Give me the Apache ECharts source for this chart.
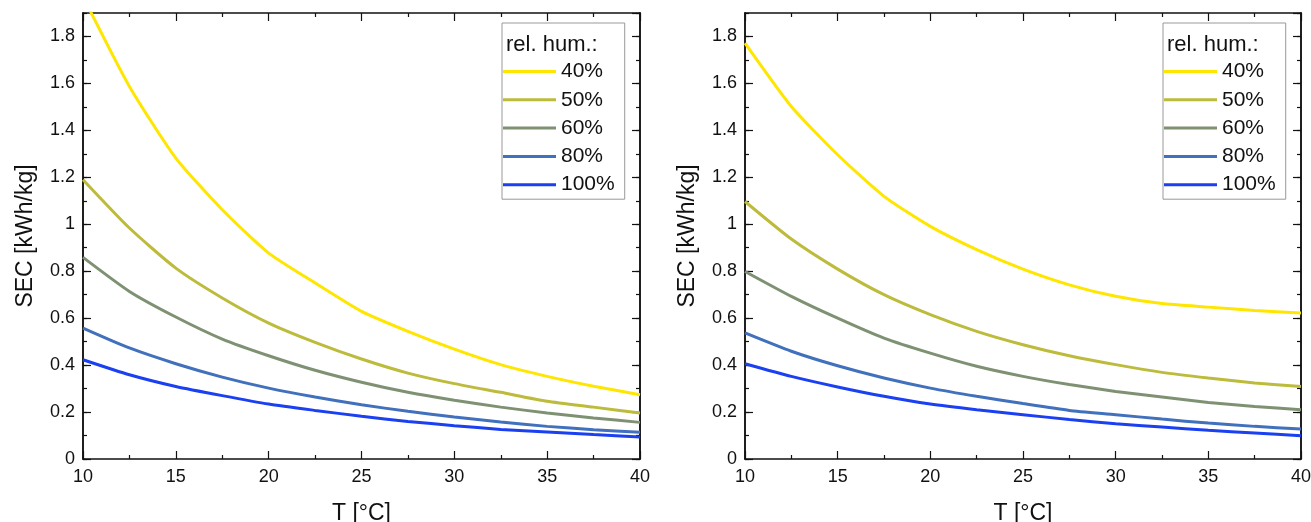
<!DOCTYPE html>
<html>
<head>
<meta charset="utf-8">
<script src="https://cdn.jsdelivr.net/npm/echarts@6/dist/echarts.min.js"></script>
<style>
    html, body { margin: 0; padding: 0; background: #fff; }
    #chart { width: 1311px; height: 522px; }
</style>
</head>
<body>
<div id="chart"></div>
<script>
// temperatures [°C]
const temps = [10, 12.5, 15, 17.5, 20, 22.5, 25, 27.5, 30, 32.5, 35, 37.5, 40];
const humNames = ['40%', '50%', '60%', '80%', '100%'];
const humColors = ['#FFE600', '#BDBB3C', '#7F9173', '#4170BD', '#1A40F2'];

// left plot: SEC [kWh/kg]
const left40 = [1.97, 1.587, 1.282, 1.062, 0.877, 0.75, 0.629, 0.544, 0.468, 0.402, 0.352, 0.31, 0.274];
const left50 = [1.19, 0.984, 0.813, 0.686, 0.579, 0.497, 0.426, 0.366, 0.321, 0.284, 0.246, 0.221, 0.196];
const left60 = [0.859, 0.714, 0.605, 0.511, 0.44, 0.378, 0.327, 0.284, 0.25, 0.221, 0.196, 0.175, 0.156];
const left80 = [0.558, 0.473, 0.406, 0.349, 0.302, 0.264, 0.231, 0.203, 0.179, 0.158, 0.139, 0.125, 0.114];
const left100 = [0.423, 0.359, 0.309, 0.27, 0.234, 0.207, 0.182, 0.16, 0.142, 0.126, 0.115, 0.104, 0.094];

// right plot
const right40 = [1.772, 1.502, 1.296, 1.119, 0.991, 0.892, 0.809, 0.742, 0.693, 0.662, 0.647, 0.633, 0.622];
const right50 = [1.097, 0.937, 0.809, 0.7, 0.615, 0.544, 0.487, 0.44, 0.402, 0.369, 0.345, 0.324, 0.309];
const right60 = [0.799, 0.693, 0.6, 0.515, 0.451, 0.395, 0.352, 0.317, 0.288, 0.264, 0.241, 0.224, 0.21];
const right80 = [0.537, 0.459, 0.397, 0.345, 0.302, 0.267, 0.236, 0.207, 0.189, 0.17, 0.153, 0.139, 0.128];
const right100 = [0.406, 0.352, 0.307, 0.267, 0.234, 0.21, 0.189, 0.168, 0.15, 0.136, 0.122, 0.111, 0.099];

const leftData = [left40, left50, left60, left80, left100];
const rightData = [right40, right50, right60, right80, right100];

const font = 'Liberation Sans, Arial, sans-serif';
const lineCol = '#111';

// axis helpers
function xAxes(gridIndex) {
    const common = {
        gridIndex: gridIndex,
        type: 'value',
        min: 10,
        max: 40,
        interval: 5,
        splitLine: { show: false },
        axisLine: { show: true, onZero: false, lineStyle: { color: lineCol, width: 1.5 } },
        axisTick: { show: true, inside: true, length: 8, lineStyle: { color: lineCol, width: 1.2 } },
        minorTick: { show: true, splitNumber: 2, length: 4, lineStyle: { color: lineCol, width: 1.2 } },
    };
    return [
        Object.assign({}, common, {
            position: 'bottom',
            name: 'T [°C]',
            nameLocation: 'middle',
            nameGap: 43,
            nameTextStyle: { fontFamily: font, fontSize: 23, color: '#111' },
            axisLabel: { fontFamily: font, fontSize: 18, color: '#111', margin: 9 },
        }),
        Object.assign({}, common, {
            position: 'top',
            axisLabel: { show: false },
        }),
    ];
}

function yAxes(gridIndex) {
    const base = {
        gridIndex: gridIndex,
        type: 'value',
        min: 0,
        max: 1.9,
        splitLine: { show: false },
        axisLine: { show: true, onZero: false, lineStyle: { color: lineCol, width: 1.5 } },
    };
    const major = Object.assign({}, base, {
        interval: 0.2,
        axisTick: { show: true, inside: true, length: 8, lineStyle: { color: lineCol, width: 1.2 } },
    });
    const minor = Object.assign({}, base, {
        interval: 0.1,
        axisLabel: { show: false },
        axisTick: { show: true, inside: true, length: 4, lineStyle: { color: lineCol, width: 1.2 } },
    });
    return [
        Object.assign({}, major, {
            position: 'left',
            name: 'SEC [kWh/kg]',
            nameLocation: 'middle',
            nameGap: 46,
            nameTextStyle: { fontFamily: font, fontSize: 23, color: '#111' },
            axisLabel: {
                fontFamily: font, fontSize: 18, color: '#111', margin: 8, showMaxLabel: false,
                formatter: v => (v > 1.85 ? '' : String(Math.round(v * 10) / 10)),
            },
        }),
        Object.assign({}, minor, { position: 'left' }),
        Object.assign({}, major, { position: 'right', axisLabel: { show: false } }),
        Object.assign({}, minor, { position: 'right' }),
    ];
}

function buildSeries(data, gridIndex) {
    return data.map((vals, i) => ({
        name: humNames[i],
        type: 'line',
        xAxisIndex: gridIndex * 2,
        yAxisIndex: gridIndex * 4,
        data: temps.map((t, k) => [t, vals[k]]),
        showSymbol: false,
        smooth: 0.2,
        clip: true,
        lineStyle: { width: 3, color: humColors[i] },
        itemStyle: { color: humColors[i] },
        z: 2 + (5 - i),
    }));
}

function legendBox(left) {
    return {
        orient: 'vertical',
        left: left,
        top: 23,
        padding: [38, 10, 4, 1],
        backgroundColor: '#fff',
        borderColor: '#999',
        borderWidth: 1,
        borderRadius: 0,
        icon: 'rect',
        itemWidth: 53,
        itemHeight: 3,
        itemGap: 7.3,
        selectedMode: false,
        data: humNames,
        textStyle: { fontFamily: font, fontSize: 21, color: '#111', lineHeight: 20 },
    };
}

const titleStyle = { fontFamily: font, fontSize: 22, fontWeight: 'normal', color: '#111' };

const chart = echarts.init(document.getElementById('chart'));
chart.setOption({
    animation: false,
    backgroundColor: '#fff',
    grid: [
        { left: 83, top: 13, width: 557, height: 446, outerBoundsMode: 'none' },
        { left: 745, top: 13, width: 556, height: 446, outerBoundsMode: 'none' },
    ],
    title: [
        { text: 'rel. hum.:', left: 501, top: 29, textStyle: titleStyle },
        { text: 'rel. hum.:', left: 1162, top: 29, textStyle: titleStyle },
    ],
    legend: [legendBox(502), legendBox(1163)],
    xAxis: xAxes(0).concat(xAxes(1)),
    yAxis: yAxes(0).concat(yAxes(1)),
    series: buildSeries(leftData, 0).concat(buildSeries(rightData, 1)),
});
</script>
</body>
</html>
